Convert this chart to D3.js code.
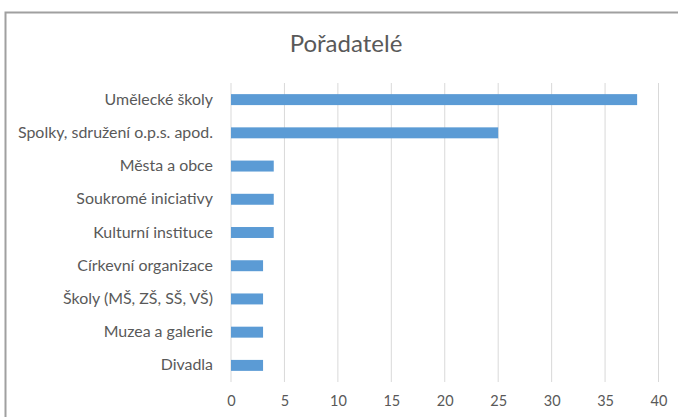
<!DOCTYPE html>
<html>
<head>
<meta charset="utf-8">
<script src="https://cdn.jsdelivr.net/npm/d3@7"></script>
<style>
  body { margin: 0; background: #fff; }
  svg { display: block; font-family: Lato, "Open Sans", sans-serif; }
</style>
</head>
<body>
<div id="chart"></div>
<script>
const categories = ['Umělecké školy', 'Spolky, sdružení o.p.s. apod.', 'Města a obce', 'Soukromé iniciativy',
  'Kulturní instituce', 'Církevní organizace', 'Školy (MŠ, ZŠ, SŠ, VŠ)', 'Muzea a galerie', 'Divadla'];
const values = [38, 25, 4, 4, 4, 3, 3, 3, 3];
const xTicks = [0, 5, 10, 15, 20, 25, 30, 35, 40];
const title = 'Pořadatelé';

const width = 678, height = 417;
const margin = { top: 83, right: 20, bottom: 35, left: 231 };
const plotBottom = 382;

const svg = d3.select('#chart').append('svg')
  .attr('width', width)
  .attr('height', height);

// chart frame (runs off the right and bottom edge)
svg.append('rect')
  .attr('x', 5.5).attr('y', 12.5)
  .attr('width', 700).attr('height', 430)
  .attr('fill', 'none')
  .attr('stroke', '#a0a0a0')
  .attr('stroke-width', 2);

const x = d3.scaleLinear().domain([0, 40]).range([margin.left, 658.5]);
const y = d3.scaleBand().domain(categories).range([margin.top, plotBottom])
  .paddingInner(0.67).paddingOuter(0.335);

// gridlines
svg.append('g')
  .selectAll('line')
  .data(xTicks)
  .join('line')
  .attr('x1', d => x(d)).attr('x2', d => x(d))
  .attr('y1', margin.top).attr('y2', plotBottom)
  .attr('stroke', '#d9d9d9')
  .attr('stroke-width', 1);

svg.append('g')
  .selectAll('rect')
  .data(values)
  .join('rect')
  .attr('x', x(0))
  .attr('y', (d, i) => y(categories[i]))
  .attr('width', d => x(d) - x(0))
  .attr('height', y.bandwidth())
  .attr('fill', '#5b9bd5');

// x axis labels
const xAxis = svg.append('g')
  .attr('transform', 'translate(0, 393)')
  .call(d3.axisBottom(x).tickValues(xTicks).tickSize(0).tickPadding(3));
xAxis.select('.domain').remove();
xAxis.selectAll('text')
  .attr('fill', '#595959')
  .style('font-size', '14.5px')
  .style('font-family', 'Lato, sans-serif');

// y axis labels
const yAxis = svg.append('g')
  .attr('transform', 'translate(213, 0)')
  .call(d3.axisLeft(y).tickSize(0).tickPadding(0));
yAxis.select('.domain').remove();
const yLabels = yAxis.selectAll('text')
  .attr('fill', '#595959')
  .style('font-size', '14.7px')
  .style('font-family', 'Lato, sans-serif');

// size the labels so the longest one spans about as wide as in the original
const longest = d3.max(yLabels.nodes(), n => n.getComputedTextLength());
yLabels.style('font-size', (14.7 * 195 / longest).toFixed(2) + 'px');

svg.append('text')
  .attr('x', 346)
  .attr('y', 52)
  .attr('text-anchor', 'middle')
  .attr('fill', '#595959')
  .style('font-size', '24px')
  .text(title);
</script>
</body>
</html>
